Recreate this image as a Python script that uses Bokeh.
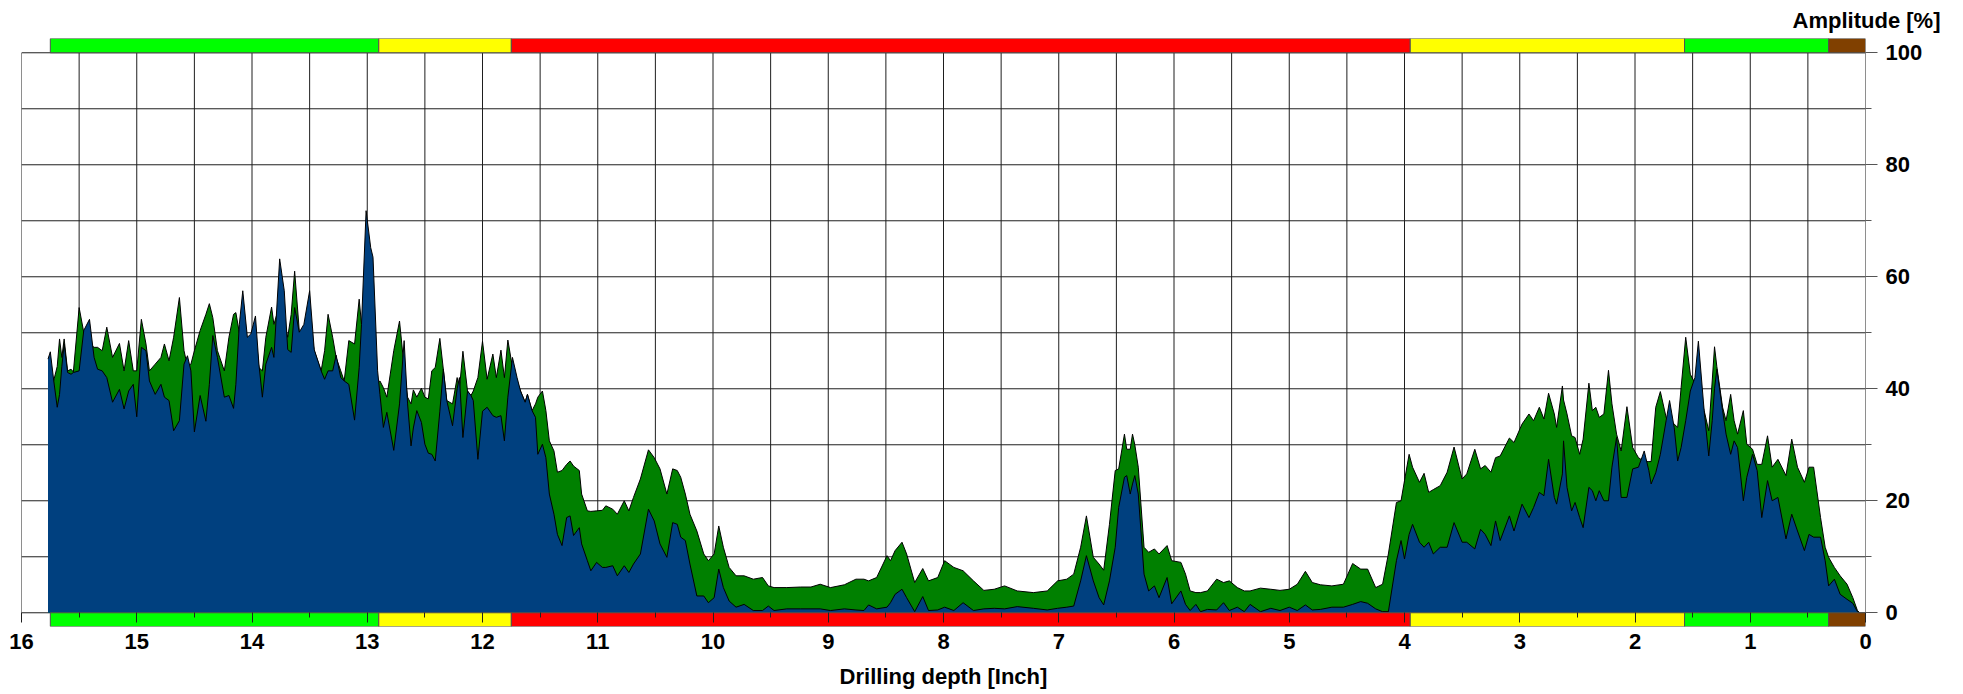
from bokeh.plotting import figure
from bokeh.models import Range1d, FixedTicker, Title
from bokeh.embed import file_html
from bokeh.resources import INLINE

# ---------------- data ----------------
depth = [15.77, 15.75, 15.72, 15.69, 15.67, 15.65, 15.63, 15.60, 15.57, 15.55,
         15.50, 15.46, 15.41, 15.37, 15.34, 15.30, 15.26, 15.21, 15.15, 15.11,
         15.07, 15.03, 15.00, 14.96, 14.92, 14.89, 14.84, 14.79, 14.76, 14.72,
         14.68, 14.63, 14.59, 14.56, 14.53, 14.50, 14.45, 14.40, 14.37, 14.34,
         14.30, 14.24, 14.20, 14.16, 14.14, 14.11, 14.08, 14.04, 14.01, 13.97,
         13.94, 13.91, 13.88, 13.83, 13.81, 13.76, 13.72, 13.69, 13.66, 13.63,
         13.59, 13.55, 13.50, 13.46, 13.40, 13.37, 13.34, 13.30, 13.27, 13.23,
         13.20, 13.16, 13.11, 13.07, 13.05, 13.01, 12.97, 12.95, 12.91, 12.89,
         12.86, 12.83, 12.77, 12.72, 12.68, 12.65, 12.62, 12.60, 12.57, 12.53,
         12.50, 12.47, 12.44, 12.41, 12.37, 12.34, 12.31, 12.26, 12.22, 12.20,
         12.17, 12.13, 12.10, 12.08, 12.04, 12.00, 11.96, 11.91, 11.88, 11.84,
         11.81, 11.78, 11.74, 11.70, 11.67, 11.63, 11.61, 11.57, 11.54, 11.52,
         11.48, 11.45, 11.42, 11.38, 11.35, 11.31, 11.27, 11.24, 11.21, 11.16,
         11.14, 11.09, 11.06, 11.01, 10.96, 10.93, 10.87, 10.83, 10.77, 10.73,
         10.69, 10.63, 10.56, 10.51, 10.46, 10.40, 10.35, 10.31, 10.28, 10.24,
         10.20, 10.14, 10.08, 10.04, 9.99, 9.95, 9.91, 9.86, 9.80, 9.73,
         9.65, 9.57, 9.52, 9.47, 9.36, 9.24, 9.15, 9.07, 8.98, 8.86,
         8.76, 8.69, 8.65, 8.58, 8.49, 8.46, 8.42, 8.36, 8.32, 8.25,
         8.18, 8.13, 8.05, 7.99, 7.91, 7.83, 7.74, 7.65, 7.56, 7.47,
         7.36, 7.22, 7.10, 7.01, 6.93, 6.87, 6.81, 6.76, 6.70, 6.65,
         6.61, 6.56, 6.51, 6.48, 6.43, 6.41, 6.38, 6.36, 6.34, 6.31,
         6.26, 6.22, 6.17, 6.13, 6.06, 6.02, 5.94, 5.90, 5.86, 5.81,
         5.77, 5.71, 5.63, 5.57, 5.52, 5.45, 5.39, 5.34, 5.25, 5.16,
         5.08, 5.00, 4.93, 4.86, 4.80, 4.73, 4.63, 4.53, 4.45, 4.38,
         4.32, 4.25, 4.19, 4.14, 4.07, 4.03, 4.00, 3.96, 3.93, 3.87,
         3.83, 3.79, 3.75, 3.69, 3.63, 3.57, 3.50, 3.46, 3.39, 3.34,
         3.30, 3.25, 3.21, 3.17, 3.09, 3.05, 2.98, 2.92, 2.88, 2.83,
         2.79, 2.75, 2.70, 2.68, 2.63, 2.62, 2.59, 2.55, 2.52, 2.48,
         2.45, 2.40, 2.37, 2.34, 2.31, 2.27, 2.23, 2.20, 2.16, 2.12,
         2.07, 2.02, 1.97, 1.92, 1.88, 1.86, 1.82, 1.78, 1.73, 1.70,
         1.66, 1.63, 1.60, 1.56, 1.52, 1.48, 1.45, 1.40, 1.36, 1.33,
         1.31, 1.29, 1.24, 1.21, 1.17, 1.14, 1.11, 1.06, 1.03, 0.98,
         0.94, 0.90, 0.85, 0.81, 0.76, 0.69, 0.64, 0.59, 0.53, 0.49,
         0.45, 0.39, 0.35, 0.32, 0.27, 0.22, 0.16, 0.11, 0.07, 0.05]

upper_amp = [43.5, 43.5, 41.5, 44.0, 48.9, 45.6, 48.9, 43.2, 43.5, 43.0,
             54.5, 50.1, 48.0, 47.4, 47.4, 46.8, 51.0, 45.6, 48.1, 43.2,
             48.6, 43.2, 43.2, 52.4, 48.0, 43.2, 44.4, 45.6, 48.0, 45.0,
             49.2, 56.3, 46.8, 44.0, 44.4, 46.8, 50.4, 53.3, 55.2, 52.7,
             46.8, 43.2, 49.2, 53.3, 53.6, 50.0, 55.0, 48.0, 48.5, 50.0,
             43.8, 43.2, 49.2, 54.6, 51.5, 55.0, 52.0, 49.2, 53.3, 61.0,
             50.4, 48.0, 52.0, 46.8, 43.2, 46.8, 53.3, 49.2, 45.6, 43.2,
             41.4, 48.6, 48.0, 56.0, 51.5, 52.0, 50.0, 48.0, 41.0, 41.4,
             40.2, 38.5, 46.8, 52.1, 43.8, 38.5, 37.3, 39.8, 38.5, 40.1,
             38.5, 38.2, 43.2, 43.8, 49.0, 43.5, 37.9, 37.3, 42.0, 40.0,
             46.7, 39.6, 38.8, 39.6, 42.0, 48.5, 41.7, 46.2, 42.0, 46.9,
             42.0, 48.7, 43.8, 41.4, 39.6, 37.6, 39.0, 36.1, 37.3, 38.5,
             39.6, 36.1, 30.7, 28.9, 25.1, 25.4, 26.5, 27.1, 26.2, 25.4,
             21.2, 18.2, 18.1, 18.2, 18.3, 19.1, 18.5, 17.6, 20.0, 18.2,
             20.6, 23.9, 29.1, 27.7, 25.7, 21.2, 25.7, 25.4, 24.2, 21.2,
             17.6, 14.6, 10.5, 9.3, 10.5, 15.5, 11.7, 8.1, 6.6, 6.6,
             6.0, 6.3, 4.8, 4.5, 4.5, 4.6, 4.6, 5.1, 4.5, 5.0,
             6.0, 6.0, 5.7, 6.3, 10.2, 9.3, 11.1, 12.6, 10.5, 5.4,
             7.9, 5.7, 6.3, 9.3, 8.1, 7.5, 5.7, 4.0, 4.2, 4.8,
             3.9, 3.6, 3.9, 5.7, 6.0, 6.9, 11.7, 17.3, 9.9, 8.7,
             7.6, 15.8, 25.4, 25.7, 31.9, 29.2, 29.2, 31.9, 30.0, 26.0,
             11.7, 10.8, 11.4, 10.5, 12.0, 9.3, 9.0, 6.9, 3.9, 3.6,
             3.6, 3.9, 6.0, 5.4, 5.7, 4.5, 3.9, 3.9, 4.4, 4.2,
             4.0, 4.2, 5.1, 7.4, 5.4, 5.0, 4.8, 5.1, 8.8, 7.8,
             7.8, 4.5, 5.1, 10.5, 19.7, 20.0, 23.6, 28.3, 26.0, 23.3,
             24.9, 21.5, 22.0, 22.7, 25.1, 29.6, 23.9, 24.8, 29.2, 25.7,
             26.3, 25.1, 27.7, 28.0, 31.2, 30.4, 33.7, 35.5, 34.3, 36.7,
             34.6, 39.2, 35.5, 33.1, 40.5, 38.0, 35.5, 31.6, 31.3, 28.3,
             31.0, 41.0, 36.1, 36.7, 34.9, 35.5, 43.3, 37.3, 31.9, 28.9,
             36.8, 29.5, 27.7, 27.0, 27.0, 27.0, 36.7, 39.5, 34.9, 34.0,
             33.7, 33.1, 40.2, 49.2, 42.6, 41.0, 40.0, 36.1, 32.5, 41.4,
             47.5, 44.0, 36.7, 34.3, 39.0, 34.3, 31.9, 36.1, 30.1, 29.2,
             26.5, 26.5, 31.6, 26.0, 27.4, 24.5, 31.0, 26.0, 23.3, 26.0,
             26.0, 17.0, 11.7, 9.9, 8.1, 6.6, 5.1, 2.7, 0.4, 0.0]

lower_amp = [45.3, 46.6, 41.4, 36.7, 39.0, 44.0, 48.0, 42.9, 42.6, 42.9,
             43.2, 50.4, 52.4, 45.6, 43.5, 43.2, 42.0, 37.6, 39.9, 36.4,
             39.6, 40.8, 35.0, 47.4, 46.8, 41.4, 39.0, 40.8, 38.5, 37.9,
             32.5, 34.3, 44.4, 45.9, 43.2, 32.3, 38.8, 34.2, 40.8, 49.5,
             45.6, 38.5, 38.8, 36.5, 40.8, 51.5, 57.5, 49.2, 49.8, 53.0,
             44.4, 38.5, 44.4, 47.4, 45.6, 63.2, 57.5, 47.0, 46.5, 54.5,
             50.1, 51.5, 57.5, 47.0, 43.2, 41.7, 43.2, 43.2, 46.0, 42.0,
             41.4, 40.8, 34.4, 43.8, 51.5, 71.8, 65.2, 63.5, 43.2, 39.0,
             33.1, 35.8, 29.0, 37.3, 48.6, 37.3, 29.8, 33.0, 36.1, 34.0,
             30.1, 28.5, 28.3, 27.1, 36.0, 43.5, 37.9, 33.4, 40.0, 42.0,
             31.3, 39.6, 38.8, 37.9, 27.4, 36.0, 36.7, 35.2, 34.9, 35.2,
             30.7, 38.5, 45.6, 42.0, 39.6, 37.6, 39.0, 36.1, 34.9, 28.3,
             30.1, 27.7, 21.2, 17.6, 14.0, 12.0, 17.0, 17.3, 13.8, 15.2,
             12.3, 9.3, 7.5, 9.0, 8.1, 8.1, 8.4, 6.6, 8.4, 7.2,
             8.7, 10.5, 18.5, 16.4, 12.3, 9.9, 16.1, 15.8, 13.5, 12.9,
             8.7, 3.0, 3.0, 1.8, 2.7, 7.8, 4.5, 2.1, 1.0, 1.5,
             0.4, 0.4, 1.2, 0.4, 0.7, 0.7, 0.7, 0.7, 0.4, 0.7,
             0.5, 0.4, 1.4, 0.7, 1.0, 1.8, 3.3, 4.2, 2.7, 0.2,
             2.9, 0.4, 0.5, 1.0, 0.4, 1.8, 0.4, 0.7, 0.8, 0.7,
             1.1, 0.8, 0.5, 0.8, 1.0, 1.2, 5.7, 10.2, 5.7, 2.7,
             1.4, 5.7, 11.7, 18.8, 24.2, 24.5, 21.2, 23.0, 24.5, 21.2,
             6.9, 3.9, 4.8, 2.7, 6.3, 1.6, 3.9, 1.5, 0.4, 1.5,
             0.2, 0.6, 0.5, 1.8, 0.4, 1.0, 0.2, 1.5, 0.2, 0.8,
             0.4, 1.0, 0.4, 1.4, 0.5, 0.6, 1.0, 1.0, 1.5, 2.0,
             1.7, 0.7, 0.2, 0.2, 9.3, 12.9, 9.6, 14.0, 15.8, 12.6,
             11.7, 12.6, 10.5, 11.7, 11.7, 16.1, 12.6, 12.6, 11.4, 14.9,
             14.0, 12.0, 16.4, 12.9, 17.3, 14.6, 19.4, 17.0, 18.8, 21.5,
             20.9, 27.4, 20.6, 19.4, 24.8, 30.7, 22.4, 18.2, 19.7, 17.0,
             15.2, 22.4, 21.8, 20.0, 21.8, 20.0, 20.0, 26.0, 31.3, 20.6,
             20.6, 25.7, 26.0, 28.9, 25.4, 23.0, 25.0, 28.3, 34.3, 37.9,
             33.1, 27.1, 29.5, 34.3, 39.6, 42.0, 48.5, 36.1, 28.0, 34.3,
             40.0, 43.5, 36.1, 31.9, 28.3, 30.7, 29.5, 20.0, 24.2, 28.3,
             25.4, 17.0, 23.6, 20.0, 20.6, 13.2, 17.6, 14.6, 11.1, 14.0,
             13.5, 13.5, 9.3, 4.8, 6.0, 3.3, 2.4, 1.7, 0.2, 0.0]

# zone bands (depth limits and colours)
band_start = [15.75, 12.90, 11.75, 3.95, 1.57, 0.32]
band_end = [12.90, 11.75, 3.95, 1.57, 0.32, 0.00]
band_colors = ["#00FF00", "#FFFF00", "#FF0000", "#FFFF00", "#00FF00", "#804000"]

# axis ticks
x_major = list(range(0, 17))
x_minor = [i + 0.5 for i in range(16)]
y_major = [0, 20, 40, 60, 80, 100]
y_minor = [10, 30, 50, 70, 90]
grid_x = [i * 0.5 for i in range(33)]
grid_y = list(range(0, 101, 10))

# ---------------- figure ----------------
Y_LO, Y_HI = -2.45, 102.55
FONT = "Liberation Sans"

p = figure(width=1963, height=694,
           x_range=Range1d(16, 0), y_range=Range1d(Y_LO, Y_HI),
           output_backend="svg", toolbar_location=None,
           y_axis_location="right",
           min_border_left=21, min_border_right=98,
           min_border_top=38, min_border_bottom=68)
p.xgrid.visible = False
p.ygrid.visible = False
p.outline_line_color = None
p.background_fill_color = "white"
p.border_fill_color = "white"

GRID = "#1e1e1e"
p.segment(x0=grid_x, x1=grid_x, y0=0, y1=100, line_color=GRID, line_width=1)
p.segment(x0=16, x1=0, y0=grid_y, y1=grid_y, line_color=GRID, line_width=1)

p.varea(x=depth, y1=0, y2=upper_amp, fill_color="#008000")
p.line(depth, upper_amp, line_color="black", line_width=1)
p.varea(x=depth, y1=0, y2=lower_amp, fill_color="#00407F")
p.line(depth, lower_amp, line_color="black", line_width=1)

p.quad(left=band_start, right=band_end, bottom=100, top=Y_HI,
       fill_color=band_colors, line_color="#505050", line_width=1)
p.quad(left=band_start, right=band_end, bottom=Y_LO, top=0,
       fill_color=band_colors, line_color="#505050", line_width=1)

xa = p.xaxis[0]
xa.ticker = FixedTicker(ticks=x_major, minor_ticks=x_minor)
xa.axis_line_color = None
xa.major_tick_in = 14
xa.major_tick_out = -4
xa.minor_tick_in = 14
xa.minor_tick_out = -9
xa.major_tick_line_color = "#202020"
xa.minor_tick_line_color = "#202020"
xa.major_label_text_font = FONT
xa.major_label_text_font_style = "bold"
xa.major_label_text_font_size = "22px"
xa.major_label_text_color = "black"
xa.major_label_standoff = 11
xa.axis_label = "Drilling depth [Inch]"
xa.axis_label_text_font = FONT
xa.axis_label_text_font_style = "bold"
xa.axis_label_text_font_size = "22px"
xa.axis_label_text_color = "black"
xa.axis_label_standoff = 12

ya = p.yaxis[0]
ya.ticker = FixedTicker(ticks=y_major, minor_ticks=y_minor)
ya.axis_line_color = None
ya.major_tick_in = 0
ya.major_tick_out = 12
ya.minor_tick_in = 0
ya.minor_tick_out = 6
ya.major_tick_line_color = "#555555"
ya.minor_tick_line_color = "#555555"
ya.major_label_text_font = FONT
ya.major_label_text_font_style = "bold"
ya.major_label_text_font_size = "22px"
ya.major_label_text_color = "black"
ya.major_label_standoff = 8

p.add_layout(Title(text="Amplitude [%]", align="right", offset=-75,
                   text_font=FONT, text_font_style="bold",
                   text_font_size="22px", text_color="black",
                   standoff=11), "above")

open("out.html", "w").write(file_html(p, INLINE))
